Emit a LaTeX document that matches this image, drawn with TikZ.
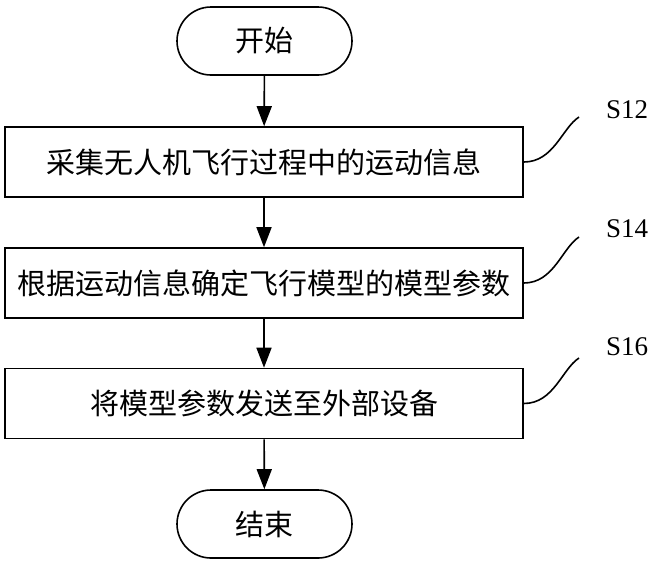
\documentclass[tikz,border=0pt]{standalone}
\usepackage{fontspec}
\setmainfont{Liberation Serif}
\newfontfamily\cjk{Noto Sans CJK SC}
\usetikzlibrary{shapes.misc,arrows.meta}
\tikzset{
  base/.style={draw, line width=1.6pt, font=\cjk\fontsize{29}{34}\selectfont, inner sep=0pt},
  term/.style={base, rounded rectangle, minimum width=175pt, minimum height=68pt},
  stepbox/.style={base, rectangle, minimum width=518pt, minimum height=70pt},
  flow/.style={line width=1.6pt, -{Triangle[length=20pt,width=15pt]}},
  leader/.style={line width=1.6pt},
  lab/.style={font=\fontsize{27}{30}\selectfont, inner sep=0pt}
}
\begin{document}
\begin{tikzpicture}[x=1pt,y=-1pt]
\useasboundingbox (0,0) rectangle (650,566);
\node[term] (start) at (264.5,41) {开始};
\node[stepbox] (s1) at (264,162) {采集无人机飞行过程中的运动信息};
\node[stepbox] (s2) at (264,283) {根据运动信息确定飞行模型的模型参数};
\node[stepbox] (s3) at (264,403.5) {将模型参数发送至外部设备};
\node[term] (end) at (264.5,524) {结束};
\draw[flow] (start) -- (s1);
\draw[flow] (s1) -- (s2);
\draw[flow] (s2) -- (s3);
\draw[flow] (s3) -- (end);
\node[lab] (l1) at (627,110) {S12};
\node[lab] (l2) at (627,229) {S14};
\node[lab] (l3) at (627,347) {S16};
\coordinate (c1) at (579,117);
\coordinate (c2) at (579,237);
\coordinate (c3) at (579,358);
\draw[leader] (s1.east) .. controls +(30,0) and (562,128) .. (c1);
\draw[leader] (s2.east) .. controls +(30,0) and (562,248) .. (c2);
\draw[leader] (s3.east) .. controls +(30,0) and (562,369) .. (c3);
\end{tikzpicture}
\end{document}
